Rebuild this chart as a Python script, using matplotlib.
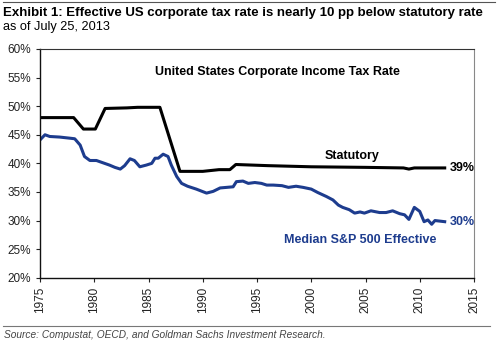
import matplotlib.pyplot as plt
import numpy as np

plt.rcParams['font.family'] = ['Liberation Sans', 'DejaVu Sans']

# statutory top federal + state corporate rate
stat_years = [1975, 1978.1, 1979.0, 1980.1, 1981.0, 1983.0, 1984.0, 1986.05, 1987.9,
              1990.0, 1991.5, 1992.5, 1993.05, 1996.0, 2000.0, 2005.0, 2008.5,
              2009.0, 2009.5, 2012.3]
stat_rate = [48.0, 48.0, 46.0, 46.0, 49.6, 49.7, 49.8, 49.8, 38.6,
             38.6, 38.9, 38.9, 39.8, 39.6, 39.4, 39.3, 39.2,
             39.0, 39.2, 39.2]

# median effective rate, S&P 500 constituents
eff_years = [1975.0, 1975.46, 1975.9, 1976.8, 1977.76, 1978.2, 1978.7, 1979.1, 1979.6,
             1980.2, 1980.8, 1981.4, 1981.9, 1982.4, 1982.8, 1983.3, 1983.7, 1984.2,
             1984.8, 1985.3, 1985.6, 1985.9, 1986.35, 1986.8, 1987.1, 1987.6, 1988.05,
             1988.6, 1989.4, 1990.35, 1990.96, 1991.6, 1992.2, 1992.8, 1993.1, 1993.7,
             1994.2, 1994.8, 1995.4, 1995.9, 1996.5, 1997.3, 1997.9, 1998.6, 1999.25,
             2000.0, 2000.6, 2001.4, 2002.0, 2002.5, 2002.9, 2003.5, 2004.0, 2004.5,
             2004.9, 2005.5, 2006.3, 2006.9, 2007.5, 2008.15, 2008.6, 2009.0, 2009.5,
             2010.0, 2010.4, 2010.75, 2011.1, 2011.4, 2012.3]
eff_rate = [44.1, 45.0, 44.7, 44.6, 44.4, 44.3, 43.2, 41.2, 40.5,
            40.5, 40.1, 39.7, 39.3, 39.0, 39.6, 40.8, 40.5, 39.4,
            39.7, 40.0, 40.9, 40.9, 41.6, 41.2, 39.7, 37.7, 36.5,
            36.0, 35.5, 34.8, 35.1, 35.7, 35.8, 35.9, 36.8, 36.9,
            36.5, 36.65, 36.5, 36.2, 36.2, 36.1, 35.8, 36.0, 35.8,
            35.5, 34.9, 34.2, 33.6, 32.7, 32.3, 31.9, 31.3, 31.5,
            31.3, 31.7, 31.4, 31.4, 31.7, 31.2, 31.0, 30.2, 32.3,
            31.6, 29.8, 30.1, 29.35, 30.0, 29.8]

navy = '#1d3c8e'

fig = plt.figure(figsize=(5.0, 3.45), dpi=100)
ax = fig.add_axes([0.08, 0.195, 0.868, 0.663])

ax.plot(stat_years, stat_rate, color='black', lw=2.2, solid_joinstyle='round')
ax.plot(eff_years, eff_rate, color=navy, lw=2.2, solid_joinstyle='round')

ax.set_xlim(1975, 2015)
ax.set_ylim(20, 60)
ax.set_xticks(np.arange(1975, 2016, 5))
ax.set_yticks(np.arange(20, 61, 5))
ax.set_yticklabels([f'{v}%' for v in range(20, 61, 5)])
ax.tick_params(axis='x', labelrotation=90, labelsize=8.5, length=3, colors='#222222')
ax.tick_params(axis='y', labelsize=8.5, length=3, colors='#222222')
for side in ['left', 'bottom']:
    ax.spines[side].set_color('#111111')
    ax.spines[side].set_linewidth(1.0)
ax.spines['top'].set_color('#333333')
ax.spines['right'].set_color('#888888')

ax.text(0.548, 0.90, 'United States Corporate Income Tax Rate', transform=ax.transAxes,
        ha='center', va='center', fontsize=9, fontweight='bold')
ax.text(2003.8, 41.2, 'Statutory', ha='center', va='center', fontsize=9, fontweight='bold')
ax.text(2004.5, 26.6, 'Median S&P 500 Effective', ha='center', va='center',
        fontsize=9, fontweight='bold', color=navy)
ax.text(stat_years[-1] + 0.5, stat_rate[-1], f'{round(stat_rate[-1])}%', ha='left', va='center',
        fontsize=9, fontweight='bold')
ax.text(eff_years[-1] + 0.5, eff_rate[-1], f'{round(eff_rate[-1])}%', ha='left', va='center',
        fontsize=9, fontweight='bold', color=navy)

fig.text(0.006, 0.963, 'Exhibit 1: Effective US corporate tax rate is nearly 10 pp below statutory rate',
         ha='left', va='center', fontsize=9.5, fontweight='bold')
fig.text(0.006, 0.923, 'as of July 25, 2013', ha='left', va='center', fontsize=9.2)
fig.text(0.008, 0.029, 'Source: Compustat, OECD, and Goldman Sachs Investment Research.',
         ha='left', va='center', fontsize=7.3, style='italic', color='#444444')

fig.add_artist(plt.Line2D([0.006, 0.99], [0.994, 0.994], color='#555555', lw=0.8))
fig.add_artist(plt.Line2D([0.006, 0.98], [0.055, 0.055], color='#777777', lw=0.8))

fig.savefig('out.png', dpi=100)
